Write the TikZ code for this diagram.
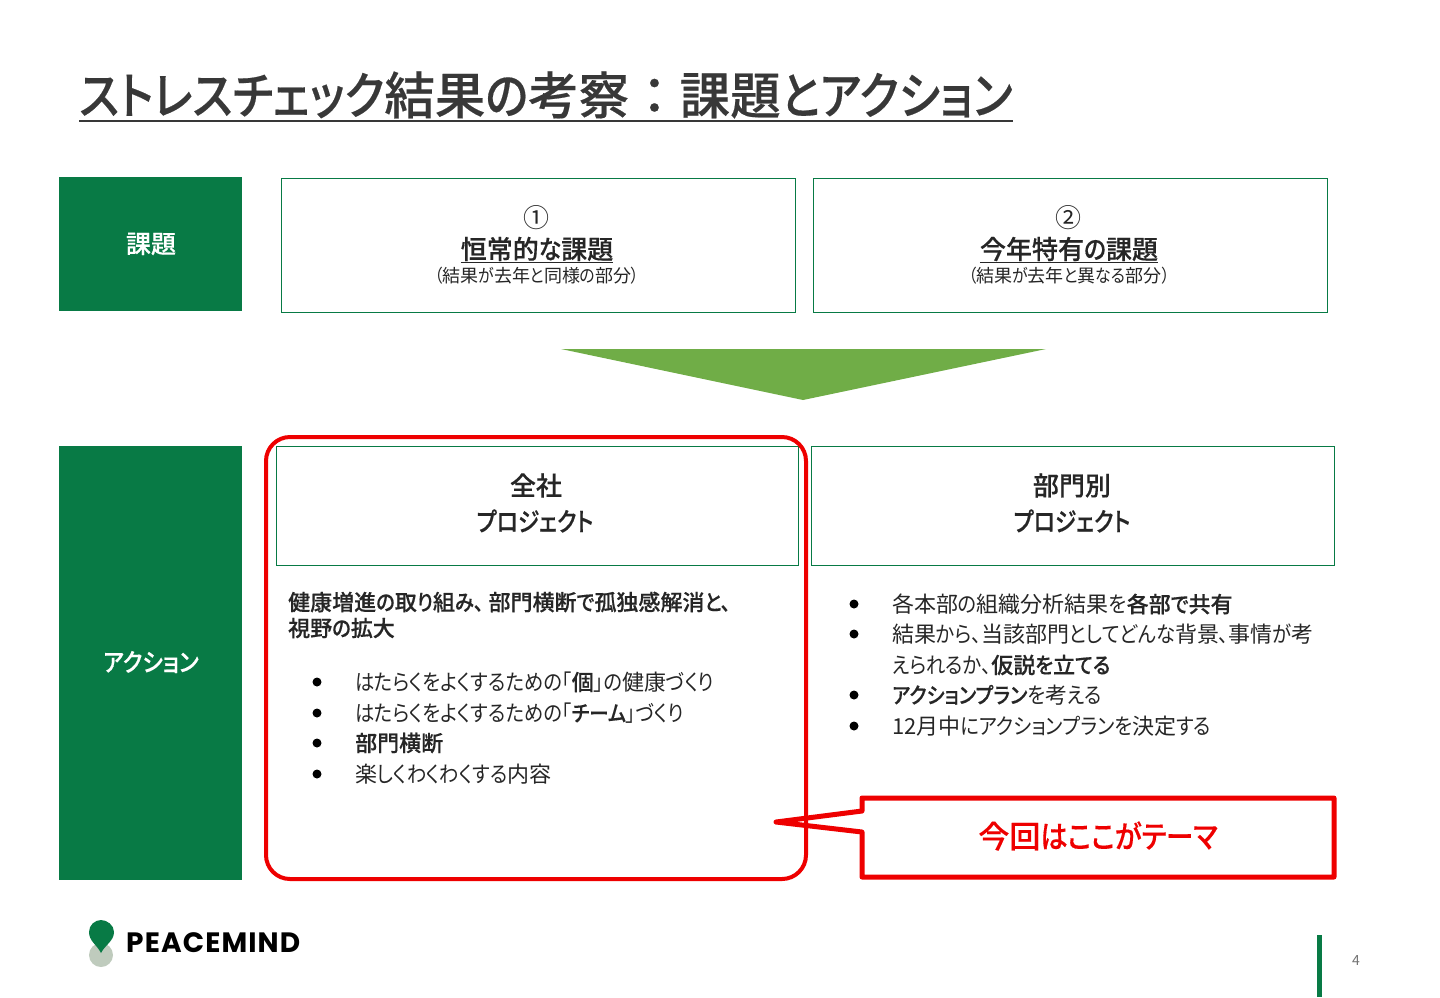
\documentclass[tikz,border=0pt]{standalone}
\usepackage{fontspec}
\setmainfont[BoldFont={Noto Sans CJK JP Medium},BoldFeatures={FakeBold=0.35}]{Noto Sans CJK JP}
\newfontfamily\kanaf[RawFeature={+palt},FakeStretch=0.88,BoldFont={Noto Sans CJK JP Medium},BoldFeatures={FakeBold=0.35}]{Noto Sans CJK JP}
\newfontfamily\plainjp[BoldFont={Noto Sans CJK JP Medium},BoldFeatures={FakeBold=0.35}]{Noto Sans CJK JP}
\newfontfamily\logofont[BoldFont={Poppins Bold},LetterSpace=4]{Poppins}
\XeTeXinterchartokenstate=1
\newXeTeXintercharclass\kanaclass
\count255="3041
\loop\ifnum\count255<"3100
  \XeTeXcharclass\count255=\kanaclass
  \advance\count255 by 1
\repeat
\XeTeXcharclass"3001=\kanaclass
\XeTeXcharclass"300C=\kanaclass
\XeTeXcharclass"300D=\kanaclass
\XeTeXcharclass"FF08=\kanaclass
\XeTeXcharclass"FF09=\kanaclass
\XeTeXinterchartoks 0 \kanaclass={\kanaf}
\XeTeXinterchartoks 4095 \kanaclass={\kanaf}
\XeTeXinterchartoks \kanaclass 0={\plainjp}
\XeTeXinterchartoks \kanaclass 4095={\plainjp}
\definecolor{pmgreen}{HTML}{087A45}
\definecolor{tipgreen}{HTML}{70AD47}
\definecolor{inktext}{HTML}{262626}
\definecolor{titleink}{HTML}{383838}
\definecolor{redline}{HTML}{EE0000}
\definecolor{logopale}{HTML}{BFCBBD}
\tikzset{
  solidbox/.style={fill=pmgreen,draw=none},
  linebox/.style={draw=pmgreen,line width=1pt,fill=white},
  tx/.style={inner sep=0pt,text=inktext},
  sidelabel/.style={inner sep=0pt,text=white,font=\fontsize{25}{28}\selectfont\bfseries},
  head/.style={tx,font=\fontsize{26}{30}\selectfont\bfseries},
  sub/.style={tx,font=\fontsize{18}{22}\selectfont},
  lead/.style={tx,anchor=west,font=\fontsize{22}{26}\selectfont\bfseries},
  item/.style={tx,anchor=west,font=\fontsize{22}{26}\selectfont},
  bul/.style={circle,fill=black,inner sep=0pt,minimum size=9pt},
}
\begin{document}
\begin{tikzpicture}[x=1pt,y=-1pt]
\useasboundingbox (0,0) rectangle (1440,997);
\node[tx,text=titleink,anchor=west,font=\fontsize{50.5}{54}\selectfont\bfseries] (title) at (79,95) {ストレスチェック結果の考察：課題とアクション};
\draw[titleink,line width=2pt] (title.west |- 0,121) -- (title.east |- 0,121);

\path[solidbox] (59,177) rectangle (242,311);
\node[sidelabel] (kadai) at (151,244) {課題};
\path[solidbox] (59,446) rectangle (242,880);
\node[sidelabel] (action) at (151,662) {アクション};

\draw[linebox] (281,178) rectangle (795,312);
\draw[linebox] (813,178) rectangle (1327,312);
\node[tx,font=\fontsize{26}{30}\selectfont] (n1) at (536,217.5) {①};
\node[head] (h1) at (537,250) {\underline{恒常的な課題}};
\node[sub] (s1) at (537,276) {（結果が去年と同様の部分）};
\node[tx,font=\fontsize{26}{30}\selectfont] (n2) at (1068,217.5) {②};
\node[head] (h2) at (1069,250) {\underline{今年特有の課題}};
\node[sub] (s2) at (1069,276) {（結果が去年と異なる部分）};

\fill[tipgreen] (561,349) -- (1046,349) -- (803,400) -- cycle;

\draw[linebox] (276,446) rectangle (798,565);
\draw[linebox] (811,446) rectangle (1334,565);
\node[head] (z1) at (536,485.5) {全社};
\node[head] (z2) at (535,521) {\scalebox{.95}[1]{プロジェクト}};
\node[head] (b1) at (1072,485.5) {部門別};
\node[head] (b2) at (1072,521) {\scalebox{.95}[1]{プロジェクト}};

\node[lead] (l1) at (288,602) {健康増進の取り組み、\hspace{5pt}部門横断で孤独感解消と、};
\node[lead] (l2) at (288,628) {視野の拡大};
\foreach \yy/\lbl in {682/{はたらくをよくするための「\textbf{個}」の健康づくり},713/{はたらくをよくするための「\textbf{チーム}」づくり},743/{\textbf{部門横断}},774/{楽しくわくわくする内容}}{
  \node[bul] at (317,\yy) {};
  \node[item] at (355,\yy) {\lbl};
}
\foreach \yy/\lbl in {604/{各本部の組織分析結果を\textbf{各部で共有}},634/{結果から、当該部門としてどんな背景、事情が考},695/{\textbf{アクションプラン}\kanaf を考える},726/{12月中にアクションプランを決定する}}{
  \node[bul] at (854,\yy) {};
  \node[item] at (892,\yy) {\lbl};
}
\node[item] (c2) at (892,665) {えられるか、\textbf{仮説を立てる}};

\draw[redline,line width=5pt,line join=round] (862,798) -- (1334,798) -- (1334,877) -- (862,877) -- (862,832) -- (776,822) -- (862,811) -- cycle;
\draw[redline,line width=4pt,rounded corners=24pt] (266,437) rectangle (806,879);
\node[tx,text=redline,font=\fontsize{31}{36}\selectfont\bfseries] (theme) at (1098,836) {今回はここがテーマ};

\fill[logopale] (101,955) circle (12);
\fill[pmgreen] (101,953) .. controls (97,945) and (89,941) .. (89,932) .. controls (89,925) and (95,920) .. (101,920) .. controls (107,920) and (114,925) .. (114,932) .. controls (114,941) and (105,945) .. (101,953) -- cycle;
\node[inner sep=0pt,anchor=west,text=black,font=\logofont\bfseries\fontsize{28}{30}\selectfont] (logo) at (126,943) {PEACEMIND};

\fill[pmgreen] (1317,935) rectangle (1322,997);
\node[inner sep=0pt,text=black!55,font=\fontsize{14}{16}\selectfont] (pg) at (1356,960) {4};
\end{tikzpicture}
\end{document}
